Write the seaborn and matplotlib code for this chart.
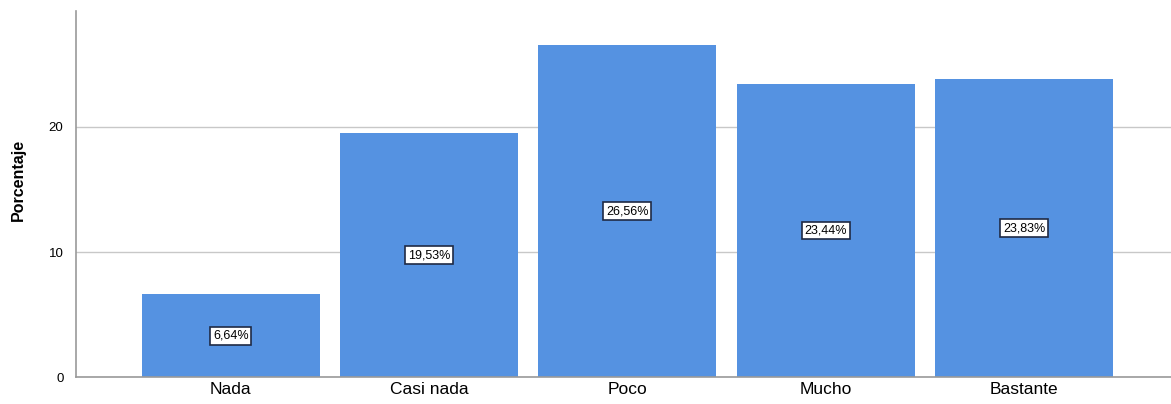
import matplotlib
matplotlib.use("Agg")
import matplotlib.pyplot as plt
import seaborn as sns
import pandas as pd

# datos
categorias = ["Nada", "Casi nada", "Poco", "Mucho", "Bastante"]
porcentajes = [6.64, 19.53, 26.56, 23.44, 23.83]
etiquetas = ["6,64%", "19,53%", "26,56%", "23,44%", "23,83%"]

df = pd.DataFrame({"cat": categorias, "pct": porcentajes})

sns.set_style("white")
plt.rcParams['font.family'] = ['Liberation Sans', 'DejaVu Sans']
plt.rcParams['text.color'] = 'black'
plt.rcParams['xtick.color'] = 'black'
plt.rcParams['ytick.color'] = 'black'
plt.rcParams['axes.labelcolor'] = 'black'

fig = plt.figure(figsize=(11.71, 4.04), dpi=100)
ax = fig.add_axes([0.0649, 0.0656, 0.9351, 0.9072])

sns.barplot(data=df, x="cat", y="pct", color="#5592e1", saturation=1,
            width=0.897, ax=ax, zorder=2, linewidth=0)

# etiquetas dentro de las barras, a media altura
for i, (v, t) in enumerate(zip(porcentajes, etiquetas)):
    ax.text(i, v / 2, t, ha="center", va="center", fontsize=9, color="black",
            bbox=dict(boxstyle="square,pad=0.22", fc="white", ec="#1f2a44", lw=1.2),
            zorder=3)

ax.set_xlim(-0.78, 4.74)
ax.set_ylim(0, 29.25)
ax.set_yticks([0, 10, 20])
ax.yaxis.grid(True, color="#c8c8c8", lw=1.0, zorder=0)
ax.set_axisbelow(True)

for s in ["top", "right"]:
    ax.spines[s].set_visible(False)
ax.spines["left"].set_color("#9a9a9a")
ax.spines["bottom"].set_color("#9a9a9a")
ax.spines["left"].set_linewidth(1.2)
ax.spines["bottom"].set_linewidth(1.2)

ax.tick_params(axis="both", length=0)
ax.tick_params(axis="y", labelsize=9.5, pad=9)
ax.tick_params(axis="x", labelsize=12.5, pad=3)

ax.set_xlabel("")
ax.set_ylabel("Porcentaje", fontsize=11.5, fontweight="bold")
ax.yaxis.set_label_coords(-0.046, 0.54)

fig.savefig("out.png", dpi=100)
